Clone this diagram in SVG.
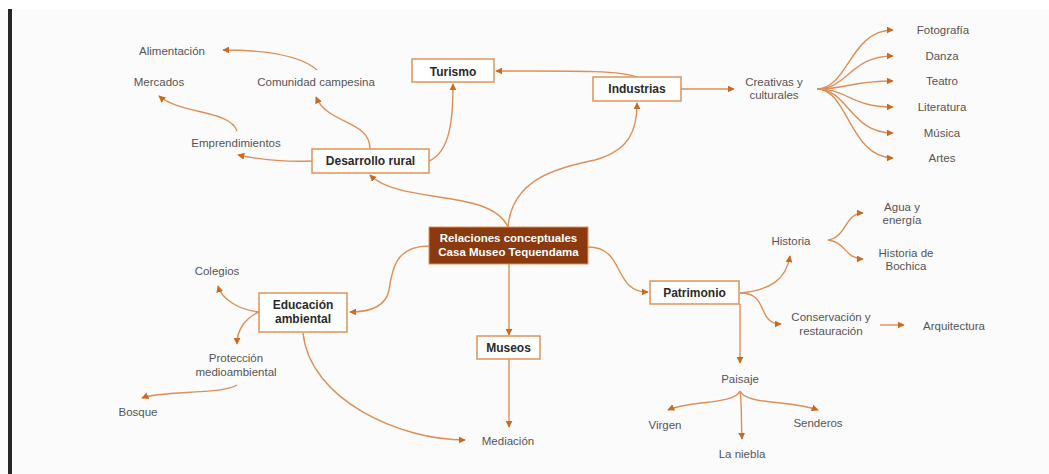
<svg xmlns="http://www.w3.org/2000/svg" width="1049" height="474" viewBox="0 0 1049 474">
<style>
.bg{fill:#fcfbfc}
.box{fill:#ffffff;stroke:#d9955c;stroke-width:1.5}
.main{fill:#8a3a0e;stroke:#d9955c;stroke-width:1}
.bt{font-family:"Liberation Sans",Arial,sans-serif;font-size:12px;font-weight:bold;fill:#2a2a2a;text-anchor:middle}
.mt{font-family:"Liberation Sans",Arial,sans-serif;font-size:11.5px;font-weight:bold;fill:#ffffff;text-anchor:middle}
.lt{font-family:"Liberation Sans",Arial,sans-serif;font-size:11.5px;fill:#555555;text-anchor:middle}
.c{fill:none;stroke:#dc9058;stroke-width:1.4;marker-end:url(#ah)}
</style>
<defs>
<marker id="ah" viewBox="0 0 10 10" refX="9" refY="5" markerWidth="7" markerHeight="7" markerUnits="userSpaceOnUse" orient="auto">
<path d="M0,0 L10,5 L0,10 z" fill="#c96a1f"/>
</marker>
</defs>
<rect class="bg" x="0" y="0" width="1049" height="474"/>
<rect x="0" y="0" width="1049" height="9" fill="#ffffff"/>
<rect x="8" y="9" width="4" height="465" fill="#262626"/>

<g id="connectors">
<path class="c" d="M317,70 C300,55 262,50 223,50"/>
<path class="c" d="M237,131 C230,110 180,114 159,96"/>
<path class="c" d="M312,161 C285,162 262,160 238,155"/>
<path class="c" d="M370,149 C370,120 328,125 316,97"/>
<path class="c" d="M429,161 C450,152 453,120 453,84"/>
<path class="c" d="M637,77 C620,70 565,71 496,71"/>
<path class="c" d="M508,227 C490,188 400,205 370,175"/>
<path class="c" d="M508,227 C512,180 555,168 595,160 C630,150 637,130 637,103"/>
<path class="c" d="M681,89 L734,89"/>
<path class="c" d="M817,89 C848,89 850,30 893,30"/>
<path class="c" d="M817,89 C848,89 850,56 893,56"/>
<path class="c" d="M817,89 C848,89 850,81 893,81"/>
<path class="c" d="M817,89 C848,89 850,107 893,107"/>
<path class="c" d="M817,89 C848,89 850,133 893,133"/>
<path class="c" d="M817,89 C848,89 850,158 893,158"/>
<path class="c" d="M509,264 L509,335"/>
<path class="c" d="M509,359 L509,427"/>
<path class="c" d="M429,246 C395,246 392,270 389,290 C386,306 372,312 350,312"/>
<path class="c" d="M588,247 C626,247 612,292 648,292"/>
<path class="c" d="M740,304 L740,363"/>
<path class="c" d="M740,293 C770,290 786,280 790,256"/>
<path class="c" d="M740,293 C770,293 756,324 781,324"/>
<path class="c" d="M880,325 L904,325"/>
<path class="c" d="M828,240 C846,238 845,213 863,213"/>
<path class="c" d="M828,240 C846,242 845,259 863,259"/>
<path class="c" d="M740,391 C742,405 741,420 742,439"/>
<path class="c" d="M740,391 C746,405 790,400 818,410"/>
<path class="c" d="M740,391 C734,405 690,400 668,410"/>
<path class="c" d="M259,312 C240,310 222,300 218,286"/>
<path class="c" d="M259,312 C245,318 237,330 237,344"/>
<path class="c" d="M237,385 C220,395 162,390 142,398"/>
<path class="c" d="M303,333 C310,400 400,440 465,440"/>
</g>

<g id="central">
<rect class="main" x="429" y="227" width="159" height="37"/>
<text class="mt" x="508.5" y="242">Relaciones conceptuales</text>
<text class="mt" x="508.5" y="256">Casa Museo Tequendama</text>
</g>
<g id="turismo"><rect class="box" x="412" y="59" width="82" height="23"/><text class="bt" x="453" y="76">Turismo</text></g>
<g id="industrias"><rect class="box" x="593" y="77" width="88" height="24"/><text class="bt" x="637" y="93">Industrias</text></g>
<g id="desarrollo"><rect class="box" x="312" y="149" width="117" height="24"/><text class="bt" x="370.5" y="165">Desarrollo rural</text></g>
<g id="museos"><rect class="box" x="477" y="336" width="63" height="23"/><text class="bt" x="508.5" y="352">Museos</text></g>
<g id="patrimonio"><rect class="box" x="650" y="281" width="89" height="23"/><text class="bt" x="694.5" y="297">Patrimonio</text></g>
<g id="educacion"><rect class="box" x="259" y="293" width="88" height="39"/><text class="bt" x="303" y="309">Educación</text><text class="bt" x="303" y="323">ambiental</text></g>

<g id="alimentacion"><text class="lt" x="172" y="55">Alimentación</text></g>
<g id="mercados"><text class="lt" x="159" y="86">Mercados</text></g>
<g id="comunidad"><text class="lt" x="316" y="86">Comunidad campesina</text></g>
<g id="emprendimientos"><text class="lt" x="236" y="147">Emprendimientos</text></g>
<g id="creativas"><text class="lt" x="774" y="86">Creativas y</text><text class="lt" x="774" y="99">culturales</text></g>
<g id="fotografia"><text class="lt" x="943" y="34">Fotografía</text></g>
<g id="danza"><text class="lt" x="942" y="60">Danza</text></g>
<g id="teatro"><text class="lt" x="942" y="85">Teatro</text></g>
<g id="literatura"><text class="lt" x="942" y="111">Literatura</text></g>
<g id="musica"><text class="lt" x="942" y="137">Música</text></g>
<g id="artes"><text class="lt" x="942" y="162">Artes</text></g>
<g id="historia"><text class="lt" x="791" y="245">Historia</text></g>
<g id="agua"><text class="lt" x="902" y="211">Agua y</text><text class="lt" x="902" y="224">energía</text></g>
<g id="bochica"><text class="lt" x="906" y="257">Historia de</text><text class="lt" x="906" y="270">Bochica</text></g>
<g id="conservacion"><text class="lt" x="831" y="321">Conservación y</text><text class="lt" x="831" y="335">restauración</text></g>
<g id="arquitectura"><text class="lt" x="954" y="330">Arquitectura</text></g>
<g id="paisaje"><text class="lt" x="740" y="383">Paisaje</text></g>
<g id="senderos"><text class="lt" x="818" y="427">Senderos</text></g>
<g id="niebla"><text class="lt" x="742" y="458">La niebla</text></g>
<g id="virgen"><text class="lt" x="665" y="429">Virgen</text></g>
<g id="mediacion"><text class="lt" x="508" y="445">Mediación</text></g>
<g id="colegios"><text class="lt" x="217" y="275">Colegios</text></g>
<g id="proteccion"><text class="lt" x="236" y="362">Protección</text><text class="lt" x="236" y="376">medioambiental</text></g>
<g id="bosque"><text class="lt" x="138" y="416">Bosque</text></g>
</svg>
